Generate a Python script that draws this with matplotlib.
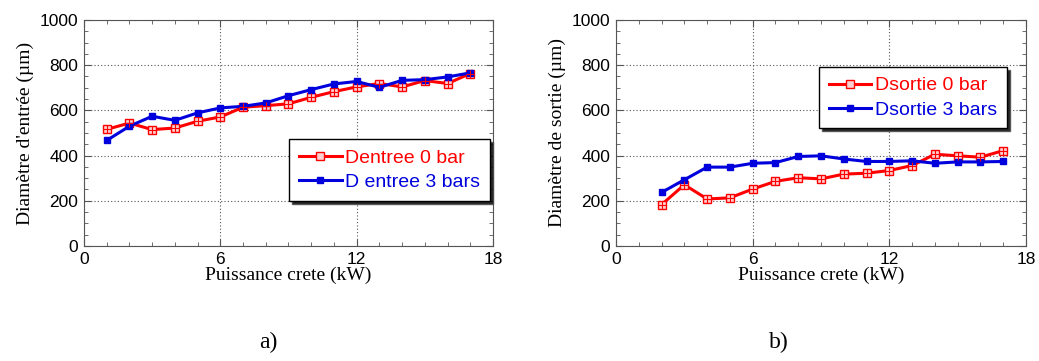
import matplotlib
matplotlib.use("Agg")
import matplotlib.pyplot as plt
from matplotlib.ticker import MultipleLocator

# Data
x_a = [1, 2, 3, 4, 5, 6, 7, 8, 9, 10, 11, 12, 13, 14, 15, 16, 17]
dentree_0bar = [516, 544, 515, 522, 552, 571, 614, 621, 629, 658, 683, 704, 719, 704, 732, 719, 763]
dentree_3bars = [467, 530, 574, 556, 589, 611, 618, 633, 665, 692, 717, 728, 702, 733, 736, 748, 766]

x_b = [2, 3, 4, 5, 6, 7, 8, 9, 10, 11, 12, 13, 14, 15, 16, 17]
dsortie_0bar = [183, 271, 208, 213, 252, 286, 302, 297, 318, 322, 334, 356, 406, 399, 393, 422]
dsortie_3bars = [237, 293, 349, 349, 366, 369, 396, 399, 385, 374, 374, 377, 366, 372, 372, 374]

xticks = [0, 6, 12, 18]
yticks = [0, 200, 400, 600, 800, 1000]

fig = plt.figure(figsize=(10.39, 3.61), dpi=100)
sans = ['Liberation Sans', 'DejaVu Sans']
serif = ['Liberation Serif', 'DejaVu Serif']

def panel(rect, x, y0, y1, lab0, lab1, ylabel, legloc, leganchor, letter, letter_x):
    ax = fig.add_axes(rect)
    l0, = ax.plot(x, y0, color='red', lw=2.2, marker='s', ms=6, mfc='#ffd0d0', mec='red', mew=1.0, zorder=3)
    ax.plot(x, y0, ls='none', marker='+', ms=6, mec='red', mew=0.8, zorder=4)
    l1, = ax.plot(x, y1, color='#0000dd', lw=2.2, marker='s', ms=5, mfc='#0000dd', mec='#0000dd', zorder=3)
    ax.set_xlim(0, 18)
    ax.set_ylim(0, 1000)
    ax.set_xticks(xticks)
    ax.set_yticks(yticks)
    ax.xaxis.set_minor_locator(MultipleLocator(1))
    ax.yaxis.set_minor_locator(MultipleLocator(50))
    ax.tick_params(which='both', direction='in', top=True, right=True, color='#555555')
    ax.tick_params(which='major', length=5, labelsize=12.5, pad=4)
    ax.tick_params(which='minor', length=3)
    for lbl in ax.get_xticklabels() + ax.get_yticklabels():
        lbl.set_family(sans)
    ax.grid(True, which='major', ls=(0, (1, 2)), color='#555555', lw=0.8)
    for s in ax.spines.values():
        s.set_color('#555555')
    ax.set_xlabel('Puissance crete (kW)', family=serif, fontsize=14, labelpad=0)
    ax.set_ylabel(ylabel, family=serif, fontsize=14, labelpad=4)
    leg = ax.legend([l0, l1], [lab0, lab1], loc=legloc, bbox_to_anchor=leganchor,
                    prop={'family': sans, 'size': 14},
                    fancybox=False, shadow={'facecolor': 'black', 'alpha': 0.85},
                    framealpha=1, edgecolor='black',
                    handlelength=2.2, handletextpad=0.2, borderpad=0.5, labelspacing=0.35,
                    borderaxespad=0)
    leg.get_texts()[0].set_color('red')
    leg.get_texts()[1].set_color('#0000dd')
    fig.text(letter_x, 0.05, letter, family=serif, fontsize=17, ha='center', va='center')
    return ax

panel([0.0808, 0.3186, 0.3937, 0.626], x_a, dentree_0bar, dentree_3bars,
      'Dentree 0 bar', 'D entree 3 bars', "Diamètre d'entrée (µm)",
      'lower right', (0.993, 0.20), 'a)', 0.258)
panel([0.5929, 0.3186, 0.3946, 0.626], x_b, dsortie_0bar, dsortie_3bars,
      'Dsortie 0 bar', 'Dsortie 3 bars', 'Diamètre de sortie (µm)',
      'upper left', (0.495, 0.792), 'b)', 0.75)

fig.savefig('out.png', dpi=100)
